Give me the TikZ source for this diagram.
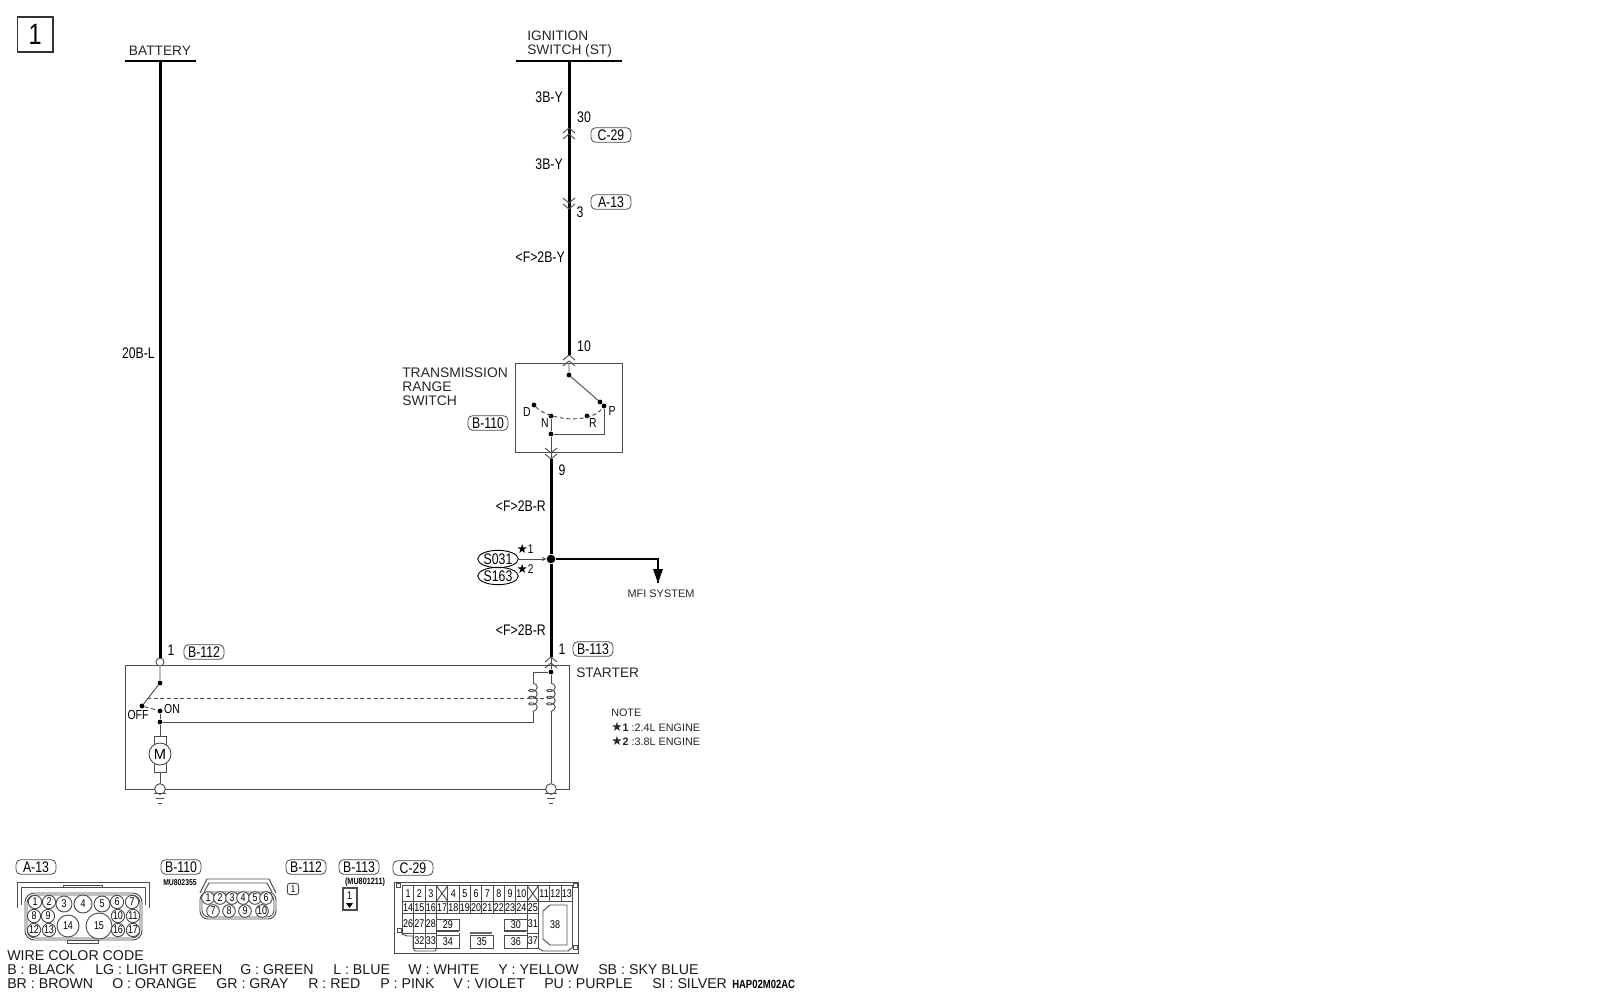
\documentclass[tikz,border=0pt]{standalone}
\usepackage{fontspec}
\setmainfont{Liberation Sans}
\newfontfamily\narrowfont[FakeStretch=0.8]{Liberation Sans}
\newfontfamily\symfont{DejaVu Sans}
\usetikzlibrary{arrows,fit,shapes.geometric,decorations.pathmorphing}
\tikzset{
  thickw/.style={line width=2.25pt,draw=black},
  thinw/.style={line width=.7pt,draw=black!70},
  thinb/.style={thinw,fill=white,inner sep=0pt},
  dot/.style={circle,fill=black,inner sep=0pt,minimum size=3.6pt},
  term/.style={circle,thinw,fill=white,inner sep=0pt,minimum size=6pt},
  title/.style={font=\fontsize{10.3}{10.6}\selectfont,inner sep=0pt,align=left,text=black!85},
  code/.style={font=\fontsize{10.65}{10.7}\selectfont,inner sep=0pt,text=black!90},
  small/.style={font=\fontsize{8.1}{10}\selectfont,inner sep=0pt,text=black!85},
  lbl/.style={font=\narrowfont\fontsize{11.5}{12}\selectfont,inner sep=0pt},
  swl/.style={font=\narrowfont\fontsize{9.8}{10}\selectfont,inner sep=0pt},
  tiny/.style={font=\narrowfont\bfseries\fontsize{6.4}{7}\selectfont,inner sep=0pt},
  tagbox/.style={lbl,draw=black!70,line width=.6pt,rounded corners=3.5pt,minimum width=30pt,minimum height=11pt},
  splice/.style={lbl,ellipse,draw=black,line width=.7pt,inner sep=0pt,minimum width=30pt,minimum height=13pt},
  pin/.style={circle,thinb,font=\narrowfont\fontsize{8.4}{9}\selectfont,minimum size=#1},
  ccell/.style={thinb,anchor=north west,font=\narrowfont\fontsize{8.4}{9}\selectfont,minimum width=8.5pt,minimum height=#1},
  chevup/.pic={\draw[thinw] (-6,5)--(0,0)--(6,5) (-6,11)--(0,6)--(6,11);},
  chevdown/.pic={\draw[thinw] (-6,-5)--(0,0)--(6,-5) (-6,1)--(0,6)--(6,1);},
  gnd/.pic={\draw[thinw] (-6,4)--(6,4) (-3.7,9)--(3.7,9) (-1.7,14)--(1.7,14);},
}
\begin{document}
\begin{tikzpicture}[x=0.75pt,y=-0.75pt]
\useasboundingbox (0,0) rectangle (1600,993);
% sheet number
\coordinate (numA) at (17.5,17); \coordinate (numB) at (53,52);
\node[fit=(numA)(numB),draw=black!80,line width=.8pt,inner sep=0pt] (sheetBox) {};
\node[inner sep=0pt,font=\narrowfont\fontsize{22}{22}\selectfont] (sheetNo) at (sheetBox.center) {1};
% power sources
\coordinate (batL) at (125,61); \coordinate (batR) at (196,61); \coordinate (batW) at (160,61);
\coordinate (ignL) at (515.5,61); \coordinate (ignR) at (622,61); \coordinate (ignW) at (569,61);
\draw[line width=1pt] (batL) -- (batR) (ignL) -- (ignR);
\node[title] (battery) at (160,51) {BATTERY};
\node[title,anchor=west] (ignition) at (527,44) {IGNITION\\SWITCH (ST)};
% boxes
\coordinate (tmsA) at (515.7,363); \coordinate (tmsB) at (622,452);
\node[fit=(tmsA)(tmsB),thinw,draw,inner sep=0pt] (tmsBox) {};
\coordinate (stA) at (125,665); \coordinate (stB) at (569,789);
\node[fit=(stA)(stB),thinw,draw,inner sep=0pt] (starterBox) {};
% thick wires
\node[term] (batTerm) at (160,662) {};
\coordinate (tmsIn) at (569,355); \coordinate (tmsOut) at (551,459);
\node[dot,minimum size=6.5pt] (joint) at (551,559) {};
\coordinate (stIn) at (551,657); \coordinate (mfiBend) at (658,559); \coordinate (mfiEnd) at (658,583);
\draw[thickw] (batW) -- (batTerm);
\draw[thickw] (ignW) -- (tmsIn);
\draw[thickw] (tmsOut) -- (joint) -- (stIn);
\draw[line width=1.7pt] (joint) -- (mfiBend) -- (mfiEnd);
\draw[fill=black,draw=none] (mfiEnd) ++(-5,-14) -- ++(10,0) -- ++(-5,14) -- cycle;
% connector marks
\pic at (569,128) {chevup};
\pic at (569,203) {chevdown};
\pic at (569,355) {chevup};
\pic at (551,453) {chevdown};
\pic at (551,657) {chevup};
% wire codes
\node[lbl,anchor=east] (wBat) at (155,353) {20B-L};
\node[lbl,anchor=east] (wIgnA) at (563,97) {3B-Y};
\node[lbl,anchor=east] (wIgnB) at (563,164) {3B-Y};
\node[lbl,anchor=east] (wIgnC) at (565,257) {<F>2B-Y};
\node[lbl,anchor=east] (wOutA) at (546,506) {<F>2B-R};
\node[lbl,anchor=east] (wOutB) at (546,630) {<F>2B-R};
\node[lbl] (pinThirty) at (584,117) {30};
\node[lbl] (pinThree) at (580,212) {3};
\node[lbl] (pinTen) at (584,346) {10};
\node[lbl] (pinNine) at (562,470) {9};
\node[lbl] (pinBatOne) at (171,650) {1};
\node[lbl] (pinStOne) at (562,649) {1};
\node[tagbox] (tagCa) at (611,135) {C-29};
\node[tagbox] (tagAa) at (611,202) {A-13};
\node[tagbox] (tagBa) at (488,423) {B-110};
\node[tagbox] (tagBb) at (204,652) {B-112};
\node[tagbox] (tagBc) at (593,649) {B-113};
% transmission range switch
\node[title,anchor=west,font=\fontsize{10.4}{10.6}\selectfont] (tmsName) at (402,387) {TRANSMISSION\\RANGE\\SWITCH};
\node[dot] (swPivot) at (569,375) {};
\node[dot] (swArm) at (600,402) {};
\node[dot] (swP) at (604,406) {};
\node[dot] (swD) at (534,405) {};
\node[dot] (swN) at (551,416) {};
\node[dot] (swR) at (587,416) {};
\node[dot] (swJoin) at (551,434) {};
\coordinate (swBend) at (604,434);
\draw[thinw] (569,363) -- (swPivot) -- (swArm);
\draw[thinw] (swP) -- (swBend) -- (swJoin);
\draw[thinw] (swN) -- (swJoin) -- (tmsOut);
\draw[thinw,densely dashed] (swD) .. controls (548,420) and (590,425) .. (swP);
\node[swl] (lblD) at (527,412) {D};
\node[swl] (lblP) at (612,411) {P};
\node[swl] (lblN) at (545,423) {N};
\node[swl] (lblR) at (593,423) {R};
% splice
\node[splice] (sOne) at (498,559) {S031};
\node[splice] (sTwo) at (498,576) {S163};
\draw[-stealth,line width=.5pt,draw=black!70] (sOne) -- (joint);
\node[lbl,font=\fontsize{9.5}{10}\selectfont] (starOne) at (525,549) {{\symfont ★}\narrowfont 1};
\node[lbl,font=\fontsize{9.5}{10}\selectfont] (starTwo) at (525,569) {{\symfont ★}\narrowfont 2};
\node[small,font=\fontsize{8.2}{10}\selectfont] (mfi) at (661,594) {MFI SYSTEM};
% starter
\node[title,anchor=west] (starter) at (576,673) {STARTER};
\node[small,anchor=west] (note) at (611,713) {NOTE};
\node[small,anchor=west] (noteOne) at (611,727) {{\fontsize{9.5}{10}\symfont ★}\textbf{1} :2.4L ENGINE};
\node[small,anchor=west] (noteTwo) at (611,741) {{\fontsize{9.5}{10}\symfont ★}\textbf{2} :3.8L ENGINE};
\node[dot] (mainPivot) at (160,683) {};
\node[dot] (mainOff) at (142,706) {};
\node[dot] (mainOn) at (160,711) {};
\node[dot] (mainTap) at (160,722) {};
\node[dot] (coilTop) at (551,672) {};
\coordinate (armMid) at (147,698); \coordinate (coilMid) at (551,698);
\coordinate (coilBend) at (533,672); \coordinate (pullA) at (533,683); \coordinate (pullB) at (533,712);
\coordinate (pullEnd) at (533,722); \coordinate (holdA) at (551,683); \coordinate (holdB) at (551,712);
\node[term,minimum size=8pt] (gndA) at (160,789) {};
\node[term,minimum size=8pt] (gndB) at (551,789) {};
\pic at (160,789) {gnd};
\pic at (551,789) {gnd};
\node[swl] (lblOff) at (138,715) {OFF};
\node[swl] (lblOn) at (172,709) {ON};
\draw[thinw] (batTerm) -- (mainPivot) -- (mainOff);
\draw[thinw,densely dashed] (mainOff) -- (mainOn);
\draw[thinw,densely dashed] (armMid) -- (coilMid);
\draw[thinw] (mainOn) -- (mainTap) -- (pullEnd) -- (pullB);
\draw[thinw] (stIn) -- (coilTop) -- (holdA);
\draw[thinw] (coilTop) -- (coilBend) -- (pullA);
\draw[thinw,decorate,decoration={coil,aspect=0.6,amplitude=3.2pt,segment length=5pt}] (pullA) -- (pullB);
\draw[thinw,decorate,decoration={coil,aspect=0.6,amplitude=3.2pt,segment length=5pt}] (holdA) -- (holdB);
\draw[thinw] (holdB) -- (gndB);
\coordinate (motA) at (154,736); \coordinate (motB) at (166,772);
\node[fit=(motA)(motB),thinw,draw,inner sep=0pt] (motBody) {};
\node[circle,thinb,minimum size=16.5pt,font=\fontsize{11}{11}\selectfont] (motor) at (160,754) {M};
\draw[thinw] (mainTap) -- (motBody) (motBody) -- (gndA);
% connector A-13
\node[tagbox] (tagAb) at (36,867) {A-13};
\draw[thinw] (17,908) -- (17,882) -- (149,882) -- (149,908);
\draw[thinw] (21,905) -- (21,887) -- (145,887) -- (145,905);
\draw[thinw,rounded corners=7pt] (25,893) rectangle (142,940);
\draw[thinw,rounded corners=6pt] (27,895) rectangle (140,938);
\draw[thinw] (63,887) rectangle (102,885) (67,940) rectangle (98,943);
\foreach \n/\px/\py/\d in {1/35/902/10pt,2/49/902/10pt,3/64/904/12pt,4/83/904/13.5pt,5/102/904/12pt,6/117/902/10pt,7/132/902/10pt,8/34/916/10pt,9/48/916/10pt,10/118/916/10pt,11/133/916/10pt,12/34/930/10pt,13/49/930/10pt,14/68/926/16.5pt,15/99/926/19.5pt,16/118/930/10pt,17/133/930/10pt}
  \node[pin=\d] (aPin\n) at (\px,\py) {\n};
% connector B-110
\node[tagbox] (tagBd) at (181,867) {B-110};
\node[tiny,anchor=west] (partBa) at (163,883) {MU802355};
\draw[thinw] (200,893) -- (207,879) -- (269,879) -- (276,893);
\draw[thinw] (204,892) -- (209,883) -- (267,883) -- (272,892);
\draw[thinw,rounded corners=6pt] (200,892) rectangle (276,919);
\draw[thinw,rounded corners=5pt] (202,894) rectangle (274,917);
\foreach \n/\px/\py in {1/208/898,2/220/898,3/232/898,4/243/898,5/255/898,6/266/898,7/213/911,8/229/911,9/245/911,10/262/911}
  \node[pin=9.5pt] (bPin\n) at (\px,\py) {\n};
% connectors B-112 and B-113
\node[tagbox] (tagBe) at (306,867) {B-112};
\node[thinb,draw,rounded corners=2pt,minimum size=8.5pt,font=\narrowfont\fontsize{7.5}{8}\selectfont] (bbOne) at (293,889) {1};
\node[tagbox] (tagBf) at (359,867) {B-113};
\node[tiny,font=\narrowfont\bfseries\fontsize{6.8}{7}\selectfont] (partBb) at (365,882) {(MU801211)};
\coordinate (bcA) at (343,888); \coordinate (bcB) at (357,910);
\node[fit=(bcA)(bcB),draw=black!70,line width=1.2pt,inner sep=0pt] (bcBox) {};
\node[lbl,font=\narrowfont\fontsize{8.4}{9}\selectfont] (bcOne) at (349.5,896) {1};
\draw[fill=black,draw=none] (346,903) -- (353,903) -- (349.5,908) -- cycle;
% connector C-29
\node[tagbox] (tagCb) at (413,868) {C-29};
\draw[thinw] (394,882) rectangle (578,953);
\foreach \sx/\sy in {398/885,575/885,399/930,575/947}
  \draw[thinw,fill=white] (\sx-2,\sy-2) rectangle (\sx+2,\sy+2);
\draw[thinw] (402,930) -- (402,934) -- (407,936) -- (413,936);
\draw[thinw] (413,936) -- (413,948) -- (415,951) -- (435,951) -- (437,948);
\draw[thinw] (538,948) -- (543,951) -- (568,951) -- (572,948);
\foreach \k/\n in {0/1,1/2,2/3,4/4,5/5,6/6,7/7,8/8,9/9,10/10,12/11,13/12,14/13}
  \node[ccell=12pt] (cPin\n) at ({402+11.33*\k},885) {\n};
\foreach \k/\n in {0/14,1/15,2/16,3/17,4/18,5/19,6/20,7/21,8/22,9/23,10/24,11/25}
  \node[ccell=9pt] (cPin\n) at ({402+11.33*\k},901) {\n};
\foreach \k/\n in {0/26,1/27,2/28,11/31}
  \node[ccell=15pt] (cPin\n) at ({402+11.33*\k},913) {\n};
\foreach \k/\n in {1/32,2/33,11/37}
  \node[ccell=11.25pt] (cPin\n) at ({402+11.33*\k},933) {\n};
\node[ccell=12pt] (crossA) at ({402+11.33*3},885) {};
\node[ccell=12pt] (crossB) at ({402+11.33*11},885) {};
\draw[thinw] (crossA.north west) -- (crossA.south east) (crossA.north east) -- (crossA.south west);
\draw[thinw] (crossB.north west) -- (crossB.south east) (crossB.north east) -- (crossB.south west);
\foreach \k/\n/\py in {3/29/919,9/30/919}
  \node[ccell=8.25pt,minimum width=17pt] (cPin\n) at ({402+11.33*\k},\py) {\n};
\foreach \k/\n in {3/34,6/35,9/36}
  \node[ccell=9.75pt,minimum width=17pt] (cPin\n) at ({402+11.33*\k},935) {\n};
\draw[thinw] (436,931) -- (459,931) (504,931) -- (526,931) (459,933) -- (459,935);
\draw[line width=1pt,draw=black!60] (470,933) -- (492,933);
\coordinate (cBodyA) at (538,901); \coordinate (cBodyB) at (538,948); \coordinate (cBodyC) at (572,948); \coordinate (cBodyD) at (572,901);
\draw[thinw] (cBodyA) -- (cBodyB) (cBodyD) -- (cBodyC) (cBodyA) -- (cBodyD);
\draw[thinw] (550,905) -- (567,905) -- (567,945) -- (550,945) -- (543,939) -- (543,911) -- cycle;
\node[lbl,font=\narrowfont\fontsize{8.4}{9}\selectfont] (cPin38) at (555,925) {38};
% wire colour code
\node[code,anchor=west] (wcc) at (7,956) {WIRE COLOR CODE};
\foreach \n/\px/\txt in {a/7/B : BLACK,b/95/LG : LIGHT GREEN,c/240/G : GREEN,d/333/L : BLUE,e/408/W : WHITE,f/498/Y : YELLOW,g/598/SB : SKY BLUE}
  \node[code,anchor=west] (ccA\n) at (\px,970) {\txt};
\foreach \n/\px/\txt in {a/7/BR : BROWN,b/112/O : ORANGE,c/216/GR : GRAY,d/308/R : RED,e/380/P : PINK,f/453/V : VIOLET,g/544/PU : PURPLE,h/652/SI : SILVER}
  \node[code,anchor=west] (ccB\n) at (\px,984) {\txt};
\node[tiny,anchor=west,font=\narrowfont\bfseries\fontsize{8.9}{9}\selectfont] (figId) at (732,984) {HAP02M02AC};
\end{tikzpicture}
\end{document}
